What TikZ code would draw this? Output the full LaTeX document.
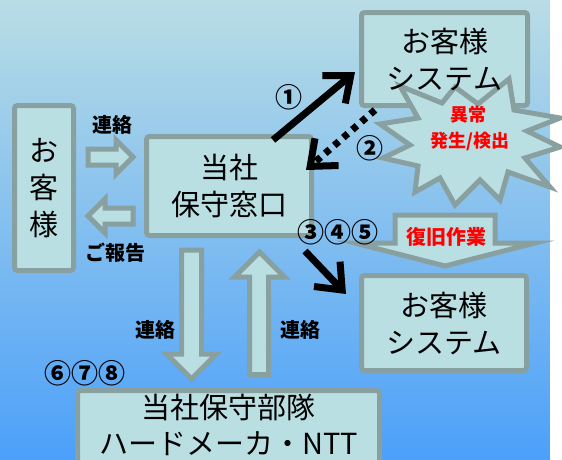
\documentclass[tikz,border=0pt]{standalone}
\usepackage{fontspec}
\setmainfont{Noto Sans CJK JP}
\usetikzlibrary{arrows.meta}
\definecolor{bgtop}{HTML}{B9DDE5}
\definecolor{bgmid}{HTML}{96C7EE}
\definecolor{bgbot}{HTML}{4CA0FA}
\definecolor{boxfill}{HTML}{BADFE3}
\definecolor{bord}{HTML}{89A0A0}
\definecolor{alertred}{HTML}{FF0000}
\begin{document}
\begin{tikzpicture}[x=1pt,y=-1pt,
  box/.style={draw=bord, fill=boxfill, line width=5pt, rounded corners=3pt, align=center, inner sep=0pt, font=\fontsize{29}{37}\selectfont},
  boxtext/.style={align=center, inner sep=0pt, font=\fontsize{29}{37}\selectfont},
  blk/.style={draw=bord, fill=boxfill, line width=5pt, line join=miter},
  lbl/.style={font=\fontsize{20}{24}\selectfont\bfseries, inner sep=0pt},
  num/.style={font=\fontsize{27}{30}\selectfont\bfseries, inner sep=0pt},
  redlbl/.style={font=\fontsize{18}{26}\selectfont\bfseries, text=alertred, inner sep=0pt, align=center},
  blackarr/.style={line width=7pt, -{Straight Barb[length=22pt,width=36pt]}},
]
\useasboundingbox (0,0) rectangle (562,459);
\shade[top color=bgtop, middle color=bgmid, bottom color=bgbot] (0,0) rectangle (550,459);
\fill[white] (550,0) rectangle (562,459);

% boxes
\node[box, minimum width=59pt, minimum height=165pt] (cust) at (44,188) {お\\客\\様};
\node[box, minimum width=165pt, minimum height=99pt] (cw) at (229,186) {当社\\保守窓口};
\node[box, minimum width=166pt, minimum height=93pt] (sys1) at (444.5,59) {};
\node[box, minimum width=165pt, minimum height=95pt] (sys2) at (444,323) {お客様\\システム};
\node[box, minimum width=302pt, minimum height=79pt] (team) at (228.5,430) {};
\node[boxtext, font=\fontsize{29}{36}\selectfont] (teamtxt) at (228.5,425) {当社保守部隊\\ハードメーカ・NTT};

% star
\draw[blk] (400,86) -- (442,103) -- (455,87) -- (478,104) -- (509,79) -- (514,110)
  -- (560,118) -- (527,131) -- (560,147) -- (525,158) -- (550,187) -- (508,172)
  -- (500,200) -- (480,180) -- (455,205) -- (440,178) -- (415,192) -- (418,166)
  -- (383,158) -- (410,145) -- (380,124) -- (418,118) -- cycle;
\node[boxtext] (sys1txt) at (444.5,59) {お客様\\システム};
\node[redlbl] (ijo) at (468,115) {異常};
\node[redlbl] (hassei) at (470,141) {発生/検出};

% gray block arrows
\draw[blk] (88,149) -- (116,149) -- (116,140) -- (133,157) -- (116,174) -- (116,165) -- (88,165) -- cycle;
\draw[blk] (133,208) -- (105,208) -- (105,199) -- (88,216) -- (105,233) -- (105,224) -- (133,224) -- cycle;
\draw[blk] (181.5,250) -- (201.5,250) -- (201.5,354) -- (216.5,354) -- (191.5,379) -- (166.5,354) -- (181.5,354) -- cycle;
\draw[blk] (249.5,374.5) -- (268.5,374.5) -- (268.5,277) -- (284.5,277) -- (259.5,252) -- (234.5,277) -- (249.5,277) -- cycle;
\draw[blk] (395,215) -- (495,215) -- (495,243) -- (535,243) -- (445,266) -- (355,243) -- (395,243) -- cycle;

% labels
\node[lbl] (l1) at (112,125) {連絡};
\node[lbl] (l2) at (115,253) {ご報告};
\node[lbl] (l3) at (155,330) {連絡};
\node[lbl] (l4) at (300,330) {連絡};
\node[redlbl, font=\fontsize{20}{24}\selectfont\bfseries] (fk) at (446,237) {復旧作業};
\node[num] (n1) at (289,97) {①};
\node[num] (n2) at (370,148) {②};
\node[num] (n3) at (338,232) {③④⑤};
\node[num] (n6) at (85,373) {⑥⑦⑧};

% black arrows
\coordinate (a1s) at (273,140);
\coordinate (a1e) at (355,72);
\coordinate (a2s) at (375,110);
\coordinate (a2e) at (306,170);
\coordinate (a3s) at (305,251);
\coordinate (a3e) at (346,294);
\draw[blackarr] (a1s) -- (a1e);
\draw[blackarr, dash pattern=on 6pt off 6pt] (a2s) -- (a2e);
\draw[blackarr] (a3s) -- (a3e);
\end{tikzpicture}
\end{document}
